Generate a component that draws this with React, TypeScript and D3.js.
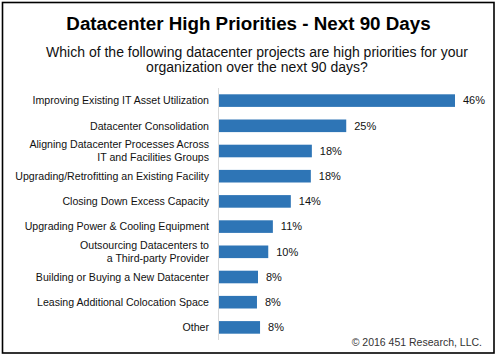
import React from "react";
import * as d3 from "d3";

const categories: string[][] = [
  ["Improving Existing IT Asset Utilization"],
  ["Datacenter Consolidation"],
  ["Aligning Datacenter Processes Across", "IT and Facilities Groups"],
  ["Upgrading/Retrofitting an Existing Facility"],
  ["Closing Down Excess Capacity"],
  ["Upgrading Power & Cooling Equipment"],
  ["Outsourcing Datacenters to", "a Third-party Provider"],
  ["Building or Buying a New Datacenter"],
  ["Leasing Additional Colocation Space"],
  ["Other"],
];
const values: number[] = [46.0, 24.8, 18.1, 17.9, 14.0, 10.5, 9.6, 7.6, 7.4, 8.0];
const valueLabels: string[] = ["46%", "25%", "18%", "18%", "14%", "11%", "10%", "8%", "8%", "8%"];

const title = "Datacenter High Priorities - Next 90 Days";
const subtitle = [
  "Which of the following datacenter projects are high priorities for your",
  "organization over the next 90 days?",
];
const copyright = "© 2016 451 Research, LLC.";

const W = 497;
const H = 357;
const FONT = "'Liberation Sans', Arial, sans-serif";
const BAR = "#2E75B6";

export default function App() {
  const axisX = 219;
  const x = d3.scaleLinear().domain([0, 46]).range([axisX, 455]);
  const idx = categories.map((_, i) => String(i));
  const y = d3.scaleBand().domain(idx).range([88, 340]).paddingInner(0.5).paddingOuter(0.25);

  return (
    <svg width={W} height={H} style={{ position: "absolute", left: 0, top: 0, background: "#fff" }} fontFamily={FONT}>
      <rect x={2.5} y={2.5} width={491.5} height={350.5} fill="#fff" stroke="#000" strokeWidth={1.6} />
      <text x={248.5} y={30} textAnchor="middle" fontSize={18.8} fontWeight="bold" fill="#000">
        {title}
      </text>
      {subtitle.map((s, i) => (
        <text key={i} x={257} y={57 + i * 15} textAnchor="middle" fontSize={14} fill="#111">
          {s}
        </text>
      ))}
      <line x1={axisX - 0.5} x2={axisX - 0.5} y1={88} y2={340} stroke="#d9d9d9" strokeWidth={1} />
      {values.map((v, i) => {
        const yc = (y(String(i)) as number) + y.bandwidth() / 2;
        const lines = categories[i];
        return (
          <g key={i}>
            <rect x={x(0)} y={y(String(i))} width={x(v) - x(0)} height={y.bandwidth()} fill={BAR} />
            {lines.map((l, j) => (
              <text
                key={j}
                x={209}
                y={yc + (j - (lines.length - 1) / 2) * 13}
                dy="0.35em"
                textAnchor="end"
                fontSize={10.6}
                fill="#111"
              >
                {l}
              </text>
            ))}
            <text x={x(v) + 8} y={yc} dy="0.35em" fontSize={11} fill="#111">
              {valueLabels[i]}
            </text>
          </g>
        );
      })}
      <text x={482} y={346} textAnchor="end" fontSize={10.5} fill="#333">
        {copyright}
      </text>
    </svg>
  );
}
